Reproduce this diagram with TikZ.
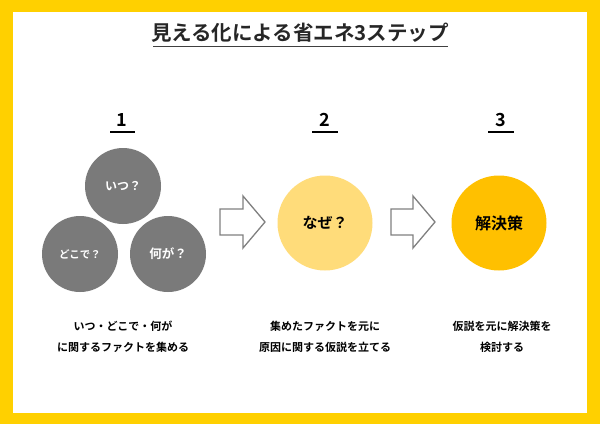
\documentclass[tikz,border=0pt]{standalone}
\usepackage{fontspec}
\setmainfont{Noto Sans CJK JP}[BoldFont={* Bold}]
\definecolor{frameyellow}{HTML}{FFD000}
\definecolor{circgray}{HTML}{7A7A7A}
\definecolor{lightyellow}{HTML}{FFDC7A}
\definecolor{gold}{HTML}{FFC000}
\definecolor{arrowgray}{HTML}{808080}
\tikzset{
  graycirc/.style={circle,fill=circgray,minimum size=76pt,inner sep=0pt,text=white,font=\bfseries\fontsize{12}{14}\selectfont},
  bigcirc/.style={circle,minimum size=95pt,inner sep=0pt,text=black,font=\bfseries\fontsize{15}{18}\selectfont},
  numlabel/.style={font=\bfseries\fontsize{18}{20}\selectfont,inner sep=0pt},
  numline/.style={line width=1.5pt,black},
  caption/.style={align=center,font=\bfseries\fontsize{11}{21}\selectfont,inner sep=0pt},
  blockarrow/.style={draw=arrowgray,line width=1.3pt,fill=white,line join=miter}
}
\begin{document}
\begin{tikzpicture}[x=1pt,y=-1pt]
\useasboundingbox (0,0) rectangle (600,424);
\fill[frameyellow] (0,0) rectangle (600,424);
\fill[white] (13,12) rectangle (587,413);
% title
\node[font=\bfseries\fontsize{20.5}{24}\selectfont,inner sep=0pt,text=black!85] (title) at (300,33) {見える化による省エネ3ステップ};
\draw[line width=0.9pt,black!75] (153,46) -- (448,46);
% step numbers
\node[numlabel] (n1) at (122,120) {1};
\draw[numline] (110,132) -- (135,132);
\node[numlabel] (n2) at (325,120) {2};
\draw[numline] (312,132) -- (338,132);
\node[numlabel] (n3) at (501,120) {3};
\draw[numline] (488,132) -- (514,132);
% step 1 circles
\node[graycirc] (itsu) at (123,186) {いつ？};
\node[graycirc,font=\bfseries\fontsize{10.5}{12}\selectfont] (doko) at (80,254) {どこで？};
\node[graycirc,font=\bfseries\fontsize{12.5}{14}\selectfont] (nani) at (168,254) {何が？};
% step 2, 3 circles
\node[bigcirc,fill=lightyellow] (naze) at (325,223) {なぜ？};
\node[bigcirc,fill=gold,font=\bfseries\fontsize{16}{18}\selectfont] (kai) at (499,223) {解決策};
% block arrows
\draw[blockarrow] (220,209) -- (243,209) -- (243,196) -- (265,222) -- (243,248) -- (243,235) -- (220,235) -- cycle;
\draw[blockarrow] (391,209) -- (413,209) -- (413,196) -- (435,222) -- (413,248) -- (413,235) -- (391,235) -- cycle;
% captions
\node[caption] (c1) at (123,337) {いつ・どこで・何が\\に関するファクトを集める};
\node[caption] (c2) at (325,337) {集めたファクトを元に\\原因に関する仮説を立てる};
\node[caption] (c3) at (502,337) {仮説を元に解決策を\\検討する};
\end{tikzpicture}
\end{document}
